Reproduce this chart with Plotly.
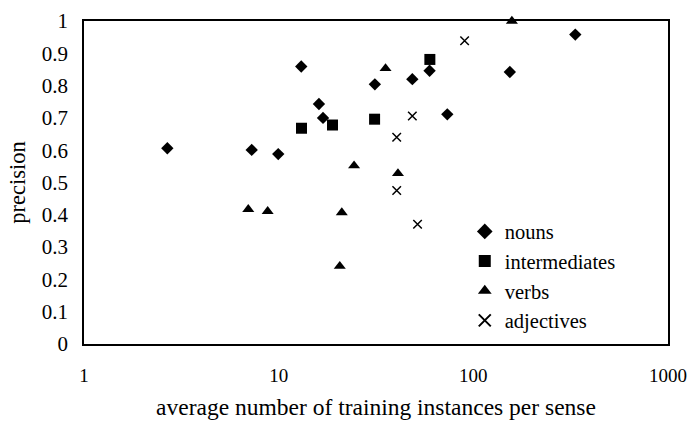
import plotly.graph_objects as go

nouns_x = [2.68, 7.27, 9.95, 13.06, 16.1, 16.9, 31.2, 48.6, 59.6, 73.5, 154, 334]
nouns_y = [0.606, 0.601, 0.588, 0.859, 0.743, 0.700, 0.804, 0.820, 0.846, 0.711, 0.842, 0.958]
inter_x = [13.1, 18.9, 31.1, 59.8]
inter_y = [0.668, 0.678, 0.696, 0.881]
verbs_x = [6.98, 8.78, 20.6, 21.1, 24.4, 35.4, 41.0, 157.8]
verbs_y = [0.417, 0.411, 0.241, 0.407, 0.552, 0.853, 0.528, 1.0]
adj_x = [40.4, 40.4, 48.6, 51.7, 90.2]
adj_y = [0.640, 0.475, 0.706, 0.371, 0.939]

x_ticks = [1, 10, 100, 1000]
x_tick_labels = ["1", "10", "100", "1000"]
y_ticks = [0, 0.1, 0.2, 0.3, 0.4, 0.5, 0.6, 0.7, 0.8, 0.9, 1]
y_tick_labels = ["0", "0.1", "0.2", "0.3", "0.4", "0.5", "0.6", "0.7", "0.8", "0.9", "1"]

FONT = "Liberation Serif, Times New Roman, serif"

fig = go.Figure()
fig.add_trace(go.Scatter(x=nouns_x, y=nouns_y, mode="markers", name="nouns",
                         marker=dict(symbol="diamond", size=9.5, color="black"), cliponaxis=False))
fig.add_trace(go.Scatter(x=inter_x, y=inter_y, mode="markers", name="intermediates",
                         marker=dict(symbol="square", size=11, color="black"), cliponaxis=False))
fig.add_trace(go.Scatter(x=verbs_x, y=verbs_y, mode="markers", name="verbs",
                         marker=dict(symbol="triangle-up", size=10.5, color="black"), cliponaxis=False))
fig.add_trace(go.Scatter(x=adj_x, y=adj_y, mode="markers", name="adjectives",
                         marker=dict(symbol="x-thin-open", size=8.5, color="black",
                                     line=dict(color="black", width=1.5)), cliponaxis=False))

fig.update_layout(
    width=694, height=421,
    margin=dict(l=84, r=26, t=21, b=77, autoexpand=False),
    paper_bgcolor="white", plot_bgcolor="white",
    font=dict(family=FONT, size=20, color="black"),
    legend=dict(x=0.652, y=0.41, xanchor="left", yanchor="top", bgcolor="rgba(0,0,0,0)",
                font=dict(family=FONT, size=20.5), tracegroupgap=0, itemsizing="constant"),
)
fig.update_xaxes(type="log", range=[0, 3], tickvals=x_ticks, ticktext=x_tick_labels,
                 showgrid=False, zeroline=False, showline=True, mirror=True, automargin=False,
                 linecolor="black", linewidth=1.5, ticks="", ticklabelstandoff=13,
                 tickfont=dict(family=FONT, size=19),
                 title=dict(text="average number of training instances per sense", standoff=14,
                            font=dict(family=FONT, size=23.5)))
fig.update_yaxes(range=[0, 1], tickvals=y_ticks, ticktext=y_tick_labels,
                 showgrid=False, zeroline=False, showline=True, mirror=True, automargin=False,
                 linecolor="black", linewidth=1.5, ticks="", ticklabelstandoff=10,
                 tickfont=dict(family=FONT, size=21),
                 title=dict(text="precision", standoff=10, font=dict(family=FONT, size=22.5)))

fig.write_html("out.html", config={"displayModeBar": False},
               post_script="document.body.style.margin='0';document.body.style.padding='0';")
